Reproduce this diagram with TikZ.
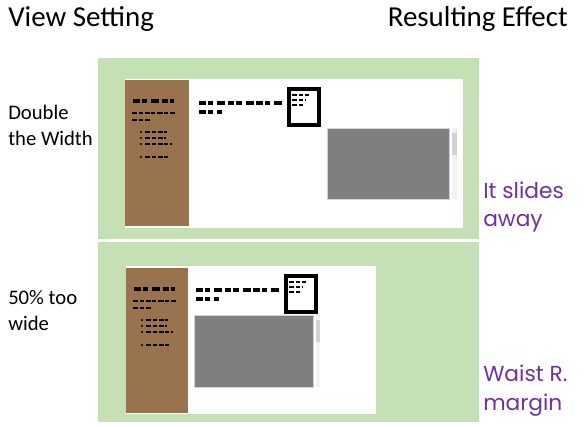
\documentclass[tikz,border=0pt]{standalone}
\usepackage{fontspec}
\setmainfont{Carlito}
\newfontfamily\notefont{Poppins}

\definecolor{panelgreen}{RGB}{197,224,180}
\definecolor{sidebarbrown}{RGB}{153,115,77}
\definecolor{shadegrey}{RGB}{127,127,127}
\definecolor{notepurple}{RGB}{112,48,160}

\tikzset{
  heading/.style={inner sep=0, font=\fontsize{21.7}{26}\selectfont},
  setting/.style={inner sep=0, align=left, font=\fontsize{15.5}{19.5}\selectfont},
  effectnote/.style={inner sep=0, align=left, text=notepurple,
    font=\notefont\fontsize{16.3}{21.5}\selectfont},
  scribble/.style={line width=2.8, dash pattern=on 5 off 1.5 on 4 off 3 on 6 off 2},
  tinyscribble/.style={line width=1.4, dash pattern=on 4 off 1 on 3 off 1.5},
  shade/.style={fill=shadegrey, draw=gray!35},
  sidebarmarks/.pic={
    \draw[scribble] (8,21) -- (49,21);
    \draw[tinyscribble] (7,33) -- (50,33);
    \draw[tinyscribble] (7,40) -- (25,40);
    \foreach \dy/\len in {52/42, 58/41, 64/47, 77/43} {
      \fill (16,\dy) circle (1.1);
      \draw[tinyscribble] (20,\dy) -- (\len,\dy);
    }
  },
  headmarks/.pic={
    \draw[scribble] (0,24) -- (84,24);
    \draw[scribble] (0,33) -- (23,33);
    \draw[line width=2.6] (90,10) rectangle (120,46);
    \draw[tinyscribble] (93,16) -- (110,16);
    \draw[tinyscribble] (93,21) -- (107,21);
    \draw[tinyscribble] (93,26) -- (105,26);
  }
}

\begin{document}
\begin{tikzpicture}[x=0.75pt,y=-0.75pt]
  \useasboundingbox (0,0) rectangle (584,427);
  % column titles
  \node[heading, anchor=base west] (viewtitle) at (8,27) {View Setting};
  \node[heading, anchor=base east] (effecttitle) at (568,27) {Resulting Effect};

  % double the width
  \fill[panelgreen] (98,58) rectangle (479,239);
  \fill[white] (125,79) rectangle (463,228);
  \fill[sidebarbrown] (125,80) rectangle (189,226);
  \pic at (125,80) {sidebarmarks};
  \pic at (199,79) {headmarks};
  \draw[shade] (327,128) rectangle (449,199);
  \fill[gray!10] (452,128) rectangle (457,199);
  \fill[gray!35] (452,133) rectangle (457,155);
  \node[setting, anchor=base west] (double) at (8,146) {Double\\the Width};
  \node[effectnote, anchor=base west] (slides) at (483,227) {It slides\\away};

  % 50% too wide
  \fill[panelgreen] (98,242) rectangle (479,422);
  \fill[white] (126,266) rectangle (376,414);
  \fill[sidebarbrown] (126,268) rectangle (188,413);
  \pic at (126,268) {sidebarmarks};
  \pic at (196,266) {headmarks};
  \draw[shade] (194,315) rectangle (313,387);
  \fill[gray!10] (316,315) rectangle (320,387);
  \fill[gray!35] (316,320) rectangle (320,342);
  \node[setting, anchor=base west] (wide) at (8,330) {50\% too\\wide};
  \node[effectnote, anchor=base west] (waist) at (483,410) {Waist R.\\margin};
\end{tikzpicture}
\end{document}
